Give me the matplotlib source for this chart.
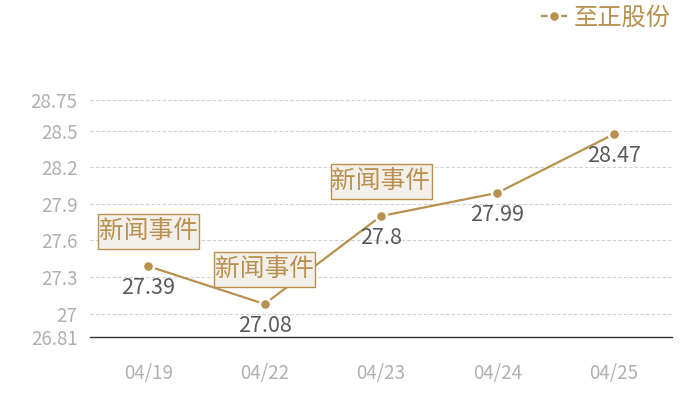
import matplotlib
matplotlib.use("Agg")
import matplotlib.pyplot as plt
from matplotlib.patches import Rectangle
from matplotlib.transforms import IdentityTransform

plt.rcParams['font.family'] = ['Noto Sans CJK SC', 'DejaVu Sans']

# data
dates = ["04/19", "04/22", "04/23", "04/24", "04/25"]
prices = [27.39, 27.08, 27.8, 27.99, 28.47]
events = [0, 1, 2]  # index of points that carry a news marker
event_text = "新闻事件"
series_name = "至正股份"
yticks = [26.81, 27, 27.3, 27.6, 27.9, 28.2, 28.5, 28.75]
ytick_labels = ["26.81", "27", "27.3", "27.6", "27.9", "28.2", "28.5", "28.75"]

gold = "#b8914f"

fig = plt.figure(figsize=(7, 4), dpi=100)
ax = fig.add_axes([90 / 700, 63 / 400, 582 / 700, 237 / 400])

x = list(range(len(dates)))
line, = ax.plot(x, prices, color=gold, lw=1.6, marker="o", markersize=8,
                markerfacecolor=gold, markeredgecolor="white", markeredgewidth=1.8,
                label=series_name, zorder=3)

ax.set_xlim(-0.5, len(dates) - 0.5)
ax.set_ylim(yticks[0], yticks[-1])
ax.set_xticks(x)
ax.set_xticklabels(dates)
ax.set_yticks(yticks)
ax.set_yticklabels(ytick_labels)
ax.tick_params(axis="both", length=0, labelsize=13.5, colors="#b0b0b0")
ax.tick_params(axis="x", pad=19)
ax.tick_params(axis="y", pad=9)

for t in yticks[1:]:
    ax.axhline(t, color="#d0d0d0", lw=0.8, ls=(0, (3, 2)), zorder=1)

for s in ["top", "right", "left"]:
    ax.spines[s].set_visible(False)
ax.spines["bottom"].set_color("#333333")
ax.spines["bottom"].set_linewidth(1.0)

# value labels under each point
for i, v in enumerate(prices):
    ax.annotate(f"{v:g}", (i, v), xytext=(0, -22), textcoords="offset pixels",
                ha="center", va="center", fontsize=15.5, color="#5a5a5a", zorder=4)

# news boxes above points (box drawn in pixel space around each point)
box_w, box_h, box_dy = 101, 35, 35
for i in events:
    px, py = ax.transData.transform((i, prices[i]))
    ax.add_patch(Rectangle((px - box_w / 2, py + box_dy - box_h / 2), box_w, box_h,
                           transform=IdentityTransform(), fc="#f3efea", ec=gold, lw=1.0,
                           zorder=5, clip_on=False))
    ax.annotate(event_text, (i, prices[i]), xytext=(0, box_dy), textcoords="offset pixels",
                ha="center", va="center", fontsize=17.8, color=gold, zorder=6)

leg = ax.legend(handles=[line], loc="center right", bbox_to_anchor=(680 / 700, 1 - 18 / 400),
                bbox_transform=fig.transFigure, frameon=False, fontsize=17.5,
                handlelength=1.0, handletextpad=0.3, borderaxespad=0)
for txt in leg.get_texts():
    txt.set_color(gold)

fig.savefig("out.png", dpi=100)
